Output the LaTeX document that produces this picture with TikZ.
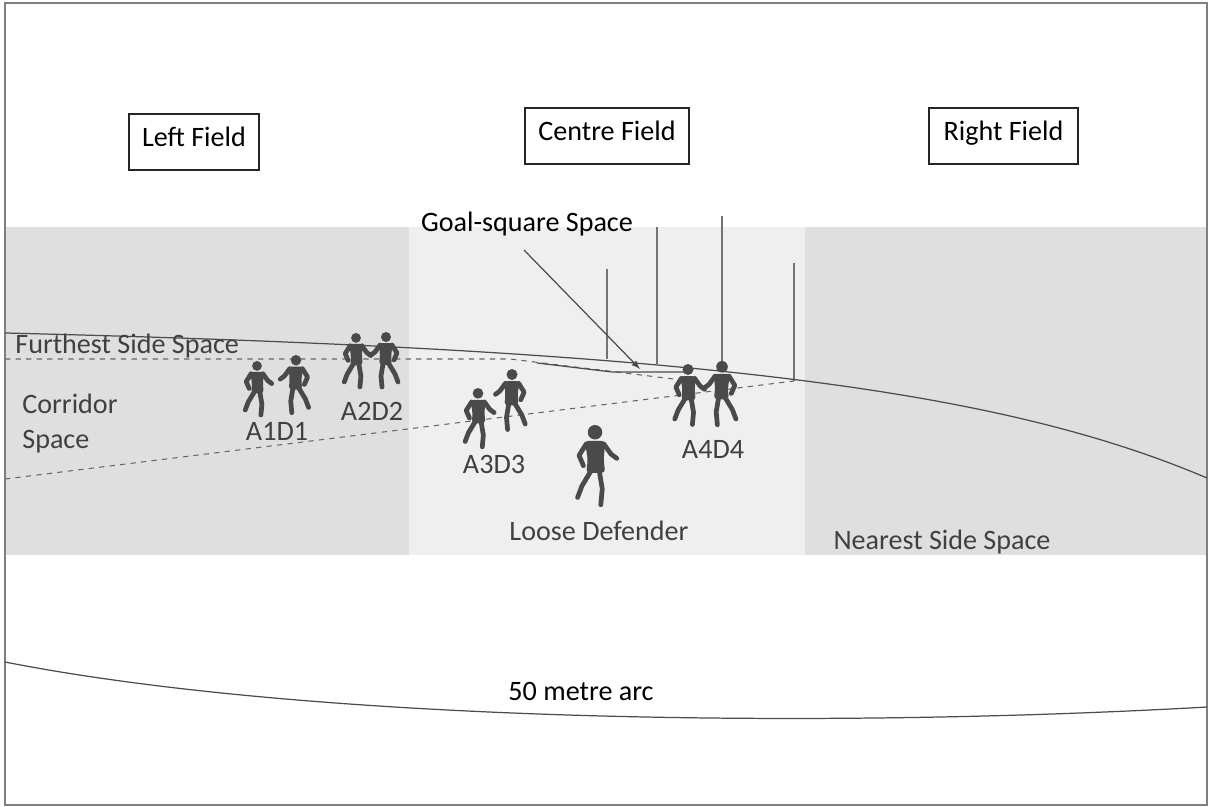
\documentclass[tikz,border=0pt]{standalone}
\usepackage{fontspec}
\setmainfont{Carlito}
\usepackage{tikz}
\definecolor{sidegray}{HTML}{DFDFDF}
\definecolor{centregray}{HTML}{EFEFEF}
\definecolor{labelgray}{HTML}{404040}
\definecolor{playergray}{HTML}{4A4A4A}
\definecolor{framegray}{HTML}{7F7F7F}
\tikzset{
  fieldbox/.style={draw=black!85, line width=0.8pt, minimum height=1.12cm, text height=0.9em, text depth=0.41em, font=\fontsize{16}{20}\selectfont},
  zonelabel/.style={text=labelgray, inner sep=0pt, font=\fontsize{16}{20}\selectfont},
  post/.style={draw=black!55, line width=0.7pt},
  boundary/.style={draw=black!70, line width=0.7pt},
  guide/.style={draw=black!60, dashed, line width=0.6pt},
  limb/.style={draw=playergray, line width=2.7pt, line cap=round, line join=round}
}
\newcommand{\runner}[3]{%
  \begin{scope}[shift={(#1,#2)}, #3]
    \fill [playergray] (0,5) circle (5);
    \fill [playergray, rounded corners=2] (-7,11) -- (7,11) -- (6,24) -- (7,33) -- (-6,33) -- (-5,24) -- cycle;
    \draw [limb] (-6,13) -- (-11,21) -- (-8,28);
    \draw [limb] (6,13) -- (11,20) -- (15,23);
    \draw [limb] (-3,32) -- (-9,42) -- (-12,50);
    \draw [limb] (3,32) -- (5,44) -- (4,55);
  \end{scope}}

\begin{document}
\begin{tikzpicture}[x=0.02cm, y=-0.02cm]
    \useasboundingbox (0,0) rectangle (1209,807);
    \fill [white] (0,0) rectangle (1209,807);
    \fill [sidegray] (5,227) rectangle (409,555);
    \fill [centregray] (409,227) rectangle (805,555);
    \fill [sidegray] (805,227) rectangle (1207,555);
    \draw [framegray, line width=0.9pt] (5,3) rectangle (1207,805);

    \node [fieldbox, minimum width=2.6cm] (left) at (194,142) {Left Field};
    \node [fieldbox, minimum width=3.28cm] (centre) at (607,136) {Centre Field};
    \node [fieldbox, minimum width=2.98cm] (right) at (1003.5,136) {Right Field};

    \foreach \x/\top/\bot in {607/269/359, 657/227/364, 722/216/372, 794/263/381}
        \draw [post] (\x,\top) -- (\x,\bot);

    \draw [boundary] (5,333) .. controls (700,350) and (1000,390) .. (1207,478);
    \draw [guide] (5,359) -- (510,359) -- (690,381);
    \draw [guide] (5,479) -- (794,381);
    \draw [boundary] (537,363) -- (612,372) -- (690,372);

    \node [zonelabel, text=black] (goalsq) at (527,224) {Goal-square Space};
    \coordinate (gsfoot) at (524,250);
    \coordinate (gstip) at (640,369);
    \draw [boundary, -latex] (gsfoot) -- (gstip);

    \runner{257}{361}{scale=0.98}
    \runner{296}{355}{scale=1.05, xscale=-1}
    \runner{356}{333}{scale=0.98}
    \runner{386}{332}{scale=1.0, xscale=-1}
    \runner{478}{388}{scale=1.07}
    \runner{512}{369}{scale=1.1, xscale=-1}
    \runner{595}{425}{scale=1.45}
    \runner{688}{364}{scale=1.1}
    \runner{722}{361}{scale=1.16, xscale=-1}

    \node [zonelabel, anchor=west] (furthest) at (15,346) {Furthest Side Space};
    \node [zonelabel, anchor=west, align=left] (corridor) at (22,423.5) {Corridor\\Space};
    \node [zonelabel] (a1d1) at (277,431) {A1D1};
    \node [zonelabel] (a2d2) at (372,411) {A2D2};
    \node [zonelabel] (a3d3) at (494,464) {A3D3};
    \node [zonelabel] (a4d4) at (713,449) {A4D4};
    \node [zonelabel] (loose) at (599,531) {Loose Defender};
    \node [zonelabel] (nearest) at (942,542) {Nearest Side Space};

    \draw [boundary] (5,662) .. controls (300,720) and (800,730) .. (1207,707);
    \node [zonelabel, text=black] (arc) at (581,691) {50 metre arc};
\end{tikzpicture}
\end{document}
